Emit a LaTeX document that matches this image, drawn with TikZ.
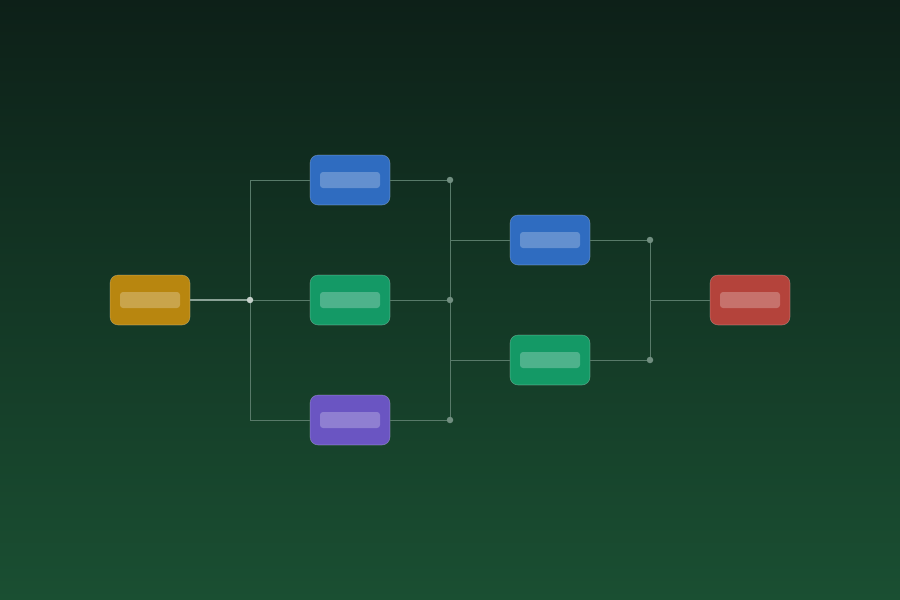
\documentclass[tikz,border=0pt]{standalone}
\definecolor{bgtop}{HTML}{0D2018}
\definecolor{bgbot}{HTML}{1A4F32}
\definecolor{wire}{HTML}{587A69}
\definecolor{cyellow}{HTML}{B8860F}
\definecolor{cblue}{HTML}{2F6CC0}
\definecolor{cgreen}{HTML}{149966}
\definecolor{cpurple}{HTML}{6A55C2}
\definecolor{cred}{HTML}{B4433B}
\tikzset{
  box/.style={minimum width=80pt, minimum height=50pt, rounded corners=8pt, inner sep=0pt, draw=white, draw opacity=0.25, line width=0.6pt},
  bar/.style={fill=white, fill opacity=0.25, rounded corners=3pt, minimum width=60pt, minimum height=16pt, inner sep=0pt},
  wireline/.style={draw=wire, line width=1pt},
  dot/.style={circle, fill=wire!85!white, inner sep=0pt, minimum size=6.5pt},
  hub/.style={circle, fill=white!65!wire, inner sep=0pt, minimum size=6.5pt},
}
\begin{document}
\begin{tikzpicture}[x=1pt,y=-1pt]
\shade[top color=bgtop, bottom color=bgbot] (0,0) rectangle (900,600);
\useasboundingbox (0,0) rectangle (900,600);
% nodes
\node[box, fill=cyellow] (src) at (150,300) {};
\node[box, fill=cblue] (b1) at (350,180) {};
\node[box, fill=cgreen] (g1) at (350,300) {};
\node[box, fill=cpurple] (p1) at (350,420) {};
\node[box, fill=cblue] (b2) at (550,240) {};
\node[box, fill=cgreen] (g2) at (550,360) {};
\node[box, fill=cred] (dst) at (750,300) {};
\foreach \n in {src,b1,g1,p1,b2,g2,dst} \node[bar] at (\n) {};
% junction coordinates
\coordinate (j1t) at (250,180);
\coordinate (j1m) at (250,300);
\coordinate (j1b) at (250,420);
\coordinate (j2t) at (450,180);
\coordinate (j2m) at (450,300);
\coordinate (j2b) at (450,420);
\coordinate (j2u) at (450,240);
\coordinate (j2d) at (450,360);
\coordinate (j3u) at (650,240);
\coordinate (j3m) at (650,300);
\coordinate (j3d) at (650,360);
% wires
\draw[wireline] (j1t) -- (j1b);
\draw[wireline] (j2t) -- (j2b);
\draw[wireline] (j3u) -- (j3d);
\draw[draw=wire!70!white, line width=1.2pt] (src.east) -- (j1m);
\draw[wireline] (j1m) -- (g1.west);
\draw[wireline] (j1t) -- (b1.west);
\draw[wireline] (j1b) -- (p1.west);
\draw[wireline] (b1.east) -- (j2t);
\draw[wireline] (g1.east) -- (j2m);
\draw[wireline] (p1.east) -- (j2b);
\draw[wireline] (j2u) -- (b2.west);
\draw[wireline] (j2d) -- (g2.west);
\draw[wireline] (b2.east) -- (j3u);
\draw[wireline] (g2.east) -- (j3d);
\draw[wireline] (j3m) -- (dst.west);
\node[hub] (h1) at (j1m) {};
\node[dot] (d1) at (j2t) {};
\node[dot] (d2) at (j2m) {};
\node[dot] (d3) at (j2b) {};
\node[dot] (d4) at (j3u) {};
\node[dot] (d5) at (j3d) {};
\end{tikzpicture}
\end{document}
